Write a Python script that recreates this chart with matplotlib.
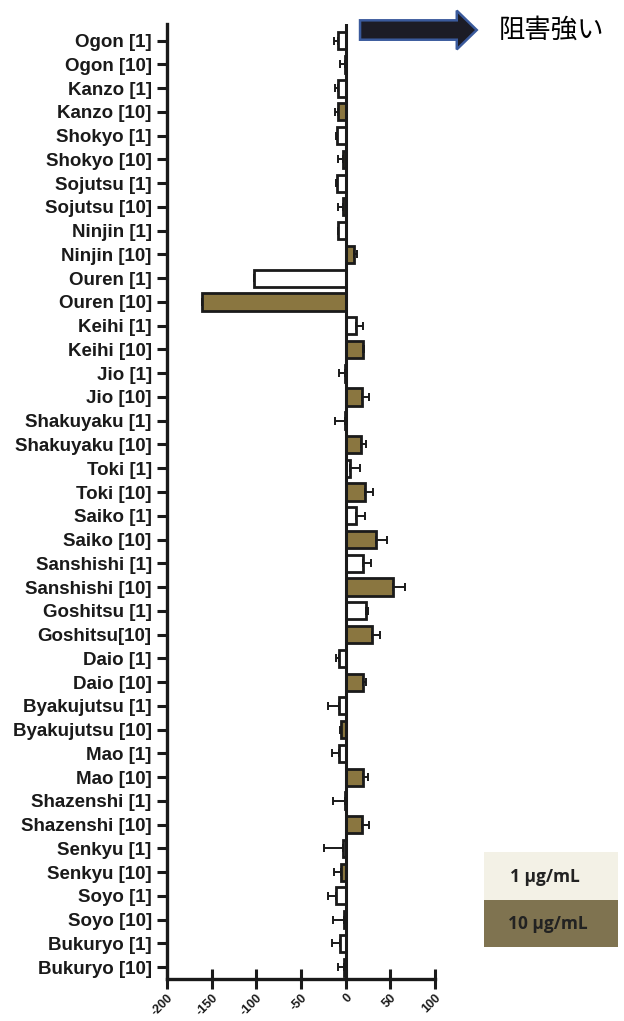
import numpy as np
import matplotlib
matplotlib.use("Agg")
import matplotlib.pyplot as plt
from matplotlib import patches

labels = ["Ogon [1]", "Ogon [10]", "Kanzo [1]", "Kanzo [10]", "Shokyo [1]", "Shokyo [10]",
          "Sojutsu [1]", "Sojutsu [10]", "Ninjin [1]", "Ninjin [10]", "Ouren [1]", "Ouren [10]",
          "Keihi [1]", "Keihi [10]", "Jio [1]", "Jio [10]", "Shakuyaku [1]", "Shakuyaku [10]",
          "Toki [1]", "Toki [10]", "Saiko [1]", "Saiko [10]", "Sanshishi [1]", "Sanshishi [10]",
          "Goshitsu [1]", "Goshitsu[10]", "Daio [1]", "Daio [10]", "Byakujutsu [1]", "Byakujutsu [10]",
          "Mao [1]", "Mao [10]", "Shazenshi [1]", "Shazenshi [10]", "Senkyu [1]", "Senkyu [10]",
          "Soyo [1]", "Soyo [10]", "Bukuryo [1]", "Bukuryo [10]"]
values = [-9, -1, -8, -8, -10, -3, -10, -3, -9, 9, -103, -161,
          12, 19, -0.5, 18, -1, 17, 5, 22, 12, 34, 19, 53,
          23, 30, -7, 20, -7, -5, -7, 20, -1, 18, -3, -5,
          -11, -2, -6, -2]
errors = [4, 5, 4, 4, 1, 6, 1, 6, 0, 4, 0, 0,
          8, 2, 7, 8, 11, 6, 11, 9, 10, 12, 9, 13,
          2, 8, 4, 3, 13, 1, 8, 5, 13, 8, 21, 8,
          9, 12, 9, 6]
xticks = [-200, -150, -100, -50, 0, 50, 100]

gold = "#8a7640"
values = np.array(values, dtype=float)
errors = np.array(errors, dtype=float)
y = np.arange(len(labels))
colors = ["white" if "[1]" in lab else gold for lab in labels]
# one-sided error bars, pointing the same way as the bar
xerr = [np.where(values < 0, errors, 0), np.where(values >= 0, errors, 0)]

fig = plt.figure(figsize=(6.24, 10.21), dpi=100)
ax = fig.add_axes([0.2676, 0.0411, 0.697 - 0.2676, 0.9765 - 0.0411])

ax.barh(y, values, height=0.72, color=colors, edgecolor="#1a1a1a", linewidth=2,
        xerr=xerr, error_kw=dict(ecolor="#1a1a1a", elinewidth=1.4, capsize=3, capthick=1.4),
        zorder=3)
ax.axvline(0, color="#1a1a1a", lw=2.2, zorder=4)

ax.set_xlim(-200, 100)
ax.set_ylim(39.5, -0.7)
ax.set_yticks(y)
ax.set_yticklabels(labels, fontsize=13.5, fontweight="bold", color="#1a1a1a",
                   family=["Liberation Sans", "DejaVu Sans"])
ax.set_xticks(xticks)
ax.set_xticklabels([str(t) for t in xticks], rotation=45, ha="right", rotation_mode="anchor",
                   fontsize=9, fontweight="bold", color="#1a1a1a",
                   family=["Liberation Sans", "DejaVu Sans"])
ax.tick_params(axis="y", length=7, width=2.2, direction="out", color="#1a1a1a", pad=4)
ax.tick_params(axis="x", length=14, width=2.2, direction="inout", color="#1a1a1a", pad=2)
for s in ["top", "right"]:
    ax.spines[s].set_visible(False)
for s in ["left", "bottom"]:
    ax.spines[s].set_linewidth(2.4)
    ax.spines[s].set_color("#1a1a1a")

# arrow and label at top
arrow = patches.FancyArrow(0.577, 0.9706, 0.155, 0, width=0.019, head_width=0.038,
                           head_length=0.032, length_includes_head=False,
                           transform=fig.transFigure, facecolor="#1c1c26",
                           edgecolor="#3a5a9c", linewidth=1.8)
fig.patches.append(arrow)
fig.text(0.80, 0.9706, "阻害強い", fontsize=19, va="center", ha="left",
         family=["Noto Sans CJK JP", "DejaVu Sans"])

# legend boxes
fig.patches.append(patches.Rectangle((484 / 624, 1 - 900 / 1021), 134 / 624, 48 / 1021,
                                     transform=fig.transFigure, facecolor="#f3f1e6",
                                     edgecolor="none"))
fig.patches.append(patches.Rectangle((484 / 624, 1 - 947 / 1021), 134 / 624, 47 / 1021,
                                     transform=fig.transFigure, facecolor="#7f7350",
                                     edgecolor="none"))
fig.text(545 / 624, 1 - 877 / 1021, "1 μg/mL", fontsize=12.5, fontweight="bold",
         ha="center", va="center", color="#222222", family=["Open Sans", "DejaVu Sans"])
fig.text(548 / 624, 1 - 924 / 1021, "10 μg/mL", fontsize=12.5, fontweight="bold",
         ha="center", va="center", color="#222222", family=["Open Sans", "DejaVu Sans"])

fig.savefig("out.png", dpi=100)
